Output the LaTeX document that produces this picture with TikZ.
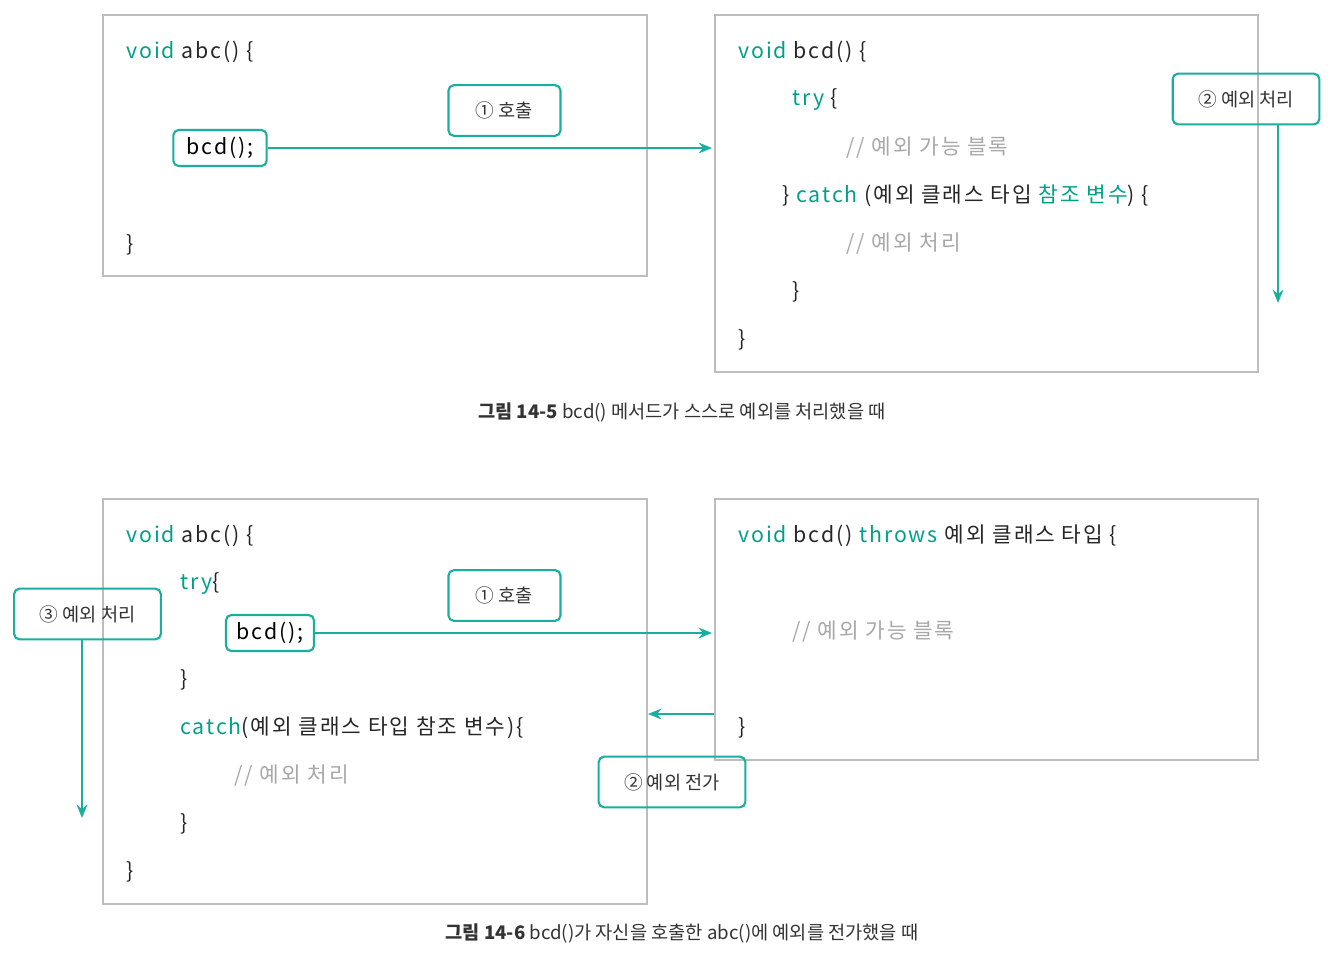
\documentclass[tikz,border=0pt]{standalone}
\usepackage{fontspec}
\setmainfont{Noto Sans CJK KR}
\newfontfamily\codefont[LetterSpace=9]{Noto Sans CJK KR}
\usetikzlibrary{arrows.meta}
\definecolor{teal1}{HTML}{1AAE9F}
\definecolor{kw}{HTML}{00A088}
\definecolor{cm}{HTML}{A8A8A8}
\definecolor{bx}{HTML}{BDBDBD}
\newcommand{\K}[1]{\textcolor{kw}{#1}}
\newcommand{\C}[1]{\textcolor{cm}{#1}}
\begin{document}
\begin{tikzpicture}[x=0.75pt,y=-0.75pt,
  panel/.style={draw=bx,line width=1pt},
  code/.style={anchor=west,font=\codefont\fontsize{16}{18}\selectfont,text=black!85,inner sep=0},
  lbl/.style={draw=teal1,line width=1.6pt,rounded corners=4pt,font=\fontsize{14}{16}\selectfont,text=black!80,inner sep=0,minimum height=38pt,minimum width=84pt},
  cbox/.style={draw=teal1,line width=1.6pt,rounded corners=4pt,font=\codefont\fontsize{16}{18}\selectfont,inner sep=0,minimum height=27pt,minimum width=70pt},
  arr/.style={teal1,line width=1.6pt,-{Stealth[length=10pt,width=8pt]}},
  captxt/.style={font=\fontsize{14}{16}\selectfont,text=black!80}]
\useasboundingbox (0,0) rectangle (1330,960);
% top
\draw[panel] (103,15) rectangle (647,276);
\draw[panel] (715,15) rectangle (1258,372);
\node[code] (t1) at (126,52) {\K{void} abc() \{};
\node[cbox] (tb) at (220,148) {bcd();};
\node[code] (t3) at (126,245) {\}};
\node[lbl] (tl1) at (504.5,110.5) {① 호출};
\coordinate (te) at (712,148);
\draw[arr] (tb.east) -- (te);
\node[code] at (738,52) {\K{void} bcd() \{};
\node[code] at (792,100) {\K{try} \{};
\node[code] at (846,148) {\C{// 예외 가능 블록}};
\node[code] at (782,196) {\} \K{catch} (예외 클래스 타입 \K{참조 변수}) \{};
\node[code] at (846,244) {\C{// 예외 처리}};
\node[code] at (792,292) {\}};
\node[code] at (738,340) {\}};
\node[lbl,minimum width=110pt] (tl2) at (1246,99) {② 예외 처리};
\coordinate (te2) at (1278,303);
\draw[arr] (1278,125) -- (te2);
\node[captxt] (c1) at (682,412) {\textbf{그림 14-5} bcd() 메서드가 스스로 예외를 처리했을 때};
% bottom
\draw[panel] (103,499) rectangle (647,904);
\draw[panel] (715,499) rectangle (1258,760);
\node[code] at (126,536) {\K{void} abc() \{};
\node[code] at (180,584) {\K{try}\{};
\node[cbox,minimum width=66pt] (bb) at (270,633) {bcd();};
\node[code] at (180,680) {\}};
\node[code] at (180,728) {\K{catch}(예외 클래스 타입 참조 변수)\{};
\node[code] at (234,776) {\C{// 예외 처리}};
\node[code] at (180,824) {\}};
\node[code] at (126,872) {\}};
\node[lbl,minimum width=110pt] (bl3) at (87.5,614) {③ 예외 처리};
\coordinate (be3) at (82,818);
\draw[arr] (82,640) -- (be3);
\node[lbl] (bl1) at (504.5,595.5) {① 호출};
\coordinate (be1) at (712,633);
\draw[arr] (bb.east) -- (be1);
\coordinate (bs2) at (714,714);
\coordinate (be2) at (648,714);
\draw[arr] (bs2) -- (be2);
\node[lbl,minimum width=110pt] (bl2) at (672,782) {② 예외 전가};
\node[code] at (738,536) {\K{void} bcd() \K{throws} 예외 클래스 타입 \{};
\node[code] at (792,632) {\C{// 예외 가능 블록}};
\node[code] at (738,728) {\}};
\node[captxt] (c2) at (682,933) {\textbf{그림 14-6} bcd()가 자신을 호출한 abc()에 예외를 전가했을 때};
\end{tikzpicture}
\end{document}
